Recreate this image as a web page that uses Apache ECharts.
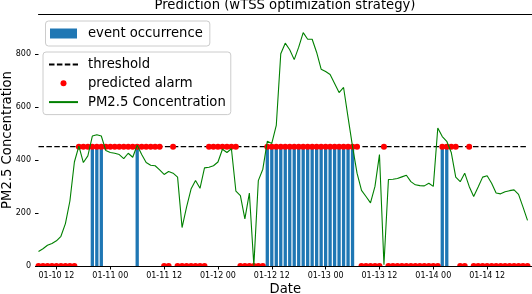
<!DOCTYPE html>
<html>
<head>
<meta charset="utf-8">
<script src="https://cdn.jsdelivr.net/npm/echarts@6/dist/echarts.min.js"></script>
<style>
html,body{margin:0;padding:0;background:#fff;}
#c{width:532px;height:294px;}
</style>
</head>
<body>
<div id="c"></div>
<script>
const DATES = [
'01-10 08','01-10 09','01-10 10','01-10 11','01-10 12','01-10 13','01-10 14','01-10 15','01-10 16','01-10 17','01-10 18','01-10 19','01-10 20','01-10 21','01-10 22','01-10 23',
'01-11 00','01-11 01','01-11 02','01-11 03','01-11 04','01-11 05','01-11 06','01-11 07','01-11 08','01-11 09','01-11 10','01-11 11','01-11 12','01-11 13','01-11 14','01-11 15','01-11 16','01-11 17','01-11 18','01-11 19','01-11 20','01-11 21','01-11 22','01-11 23',
'01-12 00','01-12 01','01-12 02','01-12 03','01-12 04','01-12 05','01-12 06','01-12 07','01-12 08','01-12 09','01-12 10','01-12 11','01-12 12','01-12 13','01-12 14','01-12 15','01-12 16','01-12 17','01-12 18','01-12 19','01-12 20','01-12 21','01-12 22','01-12 23',
'01-13 00','01-13 01','01-13 02','01-13 03','01-13 04','01-13 05','01-13 06','01-13 07','01-13 08','01-13 09','01-13 10','01-13 11','01-13 12','01-13 13','01-13 14','01-13 15','01-13 16','01-13 17','01-13 18','01-13 19','01-13 20','01-13 21','01-13 22','01-13 23',
'01-14 00','01-14 01','01-14 02','01-14 03','01-14 04','01-14 05','01-14 06','01-14 07','01-14 08','01-14 09','01-14 10','01-14 11','01-14 12','01-14 13','01-14 14','01-14 15','01-14 16','01-14 17','01-14 18','01-14 19','01-14 20','01-14 21'
];
const PM25 = [
55,65,78,85,95,112,160,245,392,452,390,415,490,495,490,435,
428,425,420,405,425,410,455,420,390,380,378,362,345,356,350,335,145,222,290,322,293,370,372,378,
392,440,428,442,282,265,178,275,2,322,365,470,462,530,800,840,815,778,825,880,855,855,805,742,
733,722,688,654,673,560,450,350,285,262,238,300,420,5,326,327,330,336,342,318,306,303,302,312,
300,520,488,470,428,335,318,350,300,262,298,335,340,312,275,272,280,284,287,270,222,172
];
const ALARM = [
0,0,0,0,0,0,0,0,0,1,1,1,1,1,1,1,
1,1,1,1,1,1,1,1,1,1,1,1,0,0,1,0,0,0,0,0,0,0,1,1,
1,1,1,1,1,0,0,0,0,0,0,1,1,1,1,1,1,1,1,1,1,1,1,1,
1,1,1,1,1,1,1,1,0,0,0,0,0,1,0,0,0,0,0,0,0,0,0,0,
0,0,1,1,1,1,0,0,1,0,0,0,0,0,0,0,0,0,0,0,0,0
];
const EVENTS = [
0,0,0,0,0,0,0,0,0,0,0,0,1,1,1,0,
0,0,0,0,0,0,1,0,0,0,0,0,0,0,0,0,0,0,0,0,0,0,0,0,
0,0,0,0,0,0,0,0,0,0,0,1,1,1,1,1,1,1,1,1,1,1,1,1,
1,1,1,1,1,1,1,0,0,0,0,0,0,0,0,0,0,0,0,0,0,0,0,0,
0,0,1,1,0,0,0,0,0,0,0,0,0,0,0,0,0,0,0,0,0,0
];
const THRESHOLD = 450;
const X_TICK_LABELS = ['01-10 12','01-11 00','01-11 12','01-12 00','01-12 12','01-13 00','01-13 12','01-14 00','01-14 12'];
const Y_TICKS = [0,200,400,600,800];

const hourOf = d => (parseInt(d.slice(3,5),10)-10)*24 + parseInt(d.slice(6,8),10);
const X = DATES.map(hourOf);
const labelByHour = {};
X_TICK_LABELS.forEach(s => { labelByHour[hourOf(s)] = s; });

const HALF = 'path://M0,10A10,10 0 0 1 20,10Z';
const FONT = 'DejaVu Sans';
const NOFILL = {color:'rgba(0,0,0,0)', borderWidth:0, opacity:0};

const chart = echarts.init(document.getElementById('c'), null, {renderer:'canvas'});
chart.setOption({
  animation:false,
  backgroundColor:'#fff',
  title:{
    text:'Prediction (wTSS optimization strategy)',
    left:285, top:-1, padding:0, textAlign:'center',
    textStyle:{fontFamily:FONT, fontSize:13.2, fontWeight:'normal', color:'#000'}
  },
  grid:{left:38.5, right:0, top:14, bottom:28, containLabel:false, outerBoundsMode:'none'},
  legend:[{
    data:[{name:'event occurrence', icon:'rect'}],
    left:45.5, top:21, orient:'horizontal',
    itemWidth:27, itemHeight:10,
    padding:[6,7,6,4.5],
    borderColor:'#cccccc', borderWidth:1, borderRadius:3,
    backgroundColor:'rgba(255,255,255,0.8)',
    textStyle:{fontFamily:FONT, fontSize:13.2, color:'#000', padding:[0,0,0,6]}
  },{
    data:[{name:'threshold', itemStyle:NOFILL},{name:'predicted alarm', icon:'circle'},{name:'PM2.5 Concentration', itemStyle:NOFILL}],
    left:43, top:52, orient:'vertical',
    itemWidth:29, itemHeight:6, itemGap:5.8,
    padding:[6,5,6,5],
    borderColor:'#cccccc', borderWidth:1, borderRadius:3,
    backgroundColor:'rgba(255,255,255,0.8)',
    textStyle:{fontFamily:FONT, fontSize:13.2, color:'#000', padding:[0,0,0,5]}
  }],
  xAxis:[{
    type:'value', min:X[0], max:X[X.length-1]+1,
    name:'Date', nameLocation:'middle', nameGap:17.3, nameMoveOverlap:false,
    nameTextStyle:{fontFamily:FONT, fontSize:13.2, color:'#000'},
    axisLine:{show:true, lineStyle:{color:'#000', width:1}},
    axisTick:{show:true, length:3.5, lineStyle:{color:'#000', width:1}, customValues:X_TICK_LABELS.map(hourOf)},
    axisLabel:{fontFamily:FONT, fontSize:8, color:'#000', margin:5.5,
      customValues:X_TICK_LABELS.map(hourOf), formatter:v => labelByHour[v] || ''},
    splitLine:{show:false}
  },{
    type:'value', position:'top', min:X[0], max:X[X.length-1]+1,
    axisLine:{show:true, lineStyle:{color:'#000', width:1}},
    axisTick:{show:false}, axisLabel:{show:false}, splitLine:{show:false}
  }],
  yAxis:{
    type:'value', min:0, max:950,
    name:'PM2.5 Concentration', nameLocation:'middle', nameGap:24.5, nameMoveOverlap:false,
    nameTextStyle:{fontFamily:FONT, fontSize:13.2, color:'#000'},
    axisLine:{show:false},
    axisTick:{show:true, length:3.5, lineStyle:{color:'#000', width:1}, customValues:Y_TICKS},
    axisLabel:{fontFamily:FONT, fontSize:8, color:'#000', margin:7.5, customValues:Y_TICKS},
    splitLine:{show:false}
  },
  series:[{
    name:'event occurrence', type:'bar', z:1,
    barWidth:3.3,
    itemStyle:{color:'#1f77b4'},
    data:EVENTS.map((e,i)=> e ? [X[i], THRESHOLD] : null).filter(d=>d)
  },{
    name:'threshold', type:'line', z:2, symbol:'none', silent:true,
    itemStyle:{color:'#000'},
    lineStyle:{color:'#000', width:1.4, type:[5.5,2.4]},
    data:X.map(x=>[x, THRESHOLD])
  },{
    name:'predicted alarm', type:'scatter', z:3,
    symbol:'circle', symbolSize:6,
    itemStyle:{color:'#ff0000', opacity:1},
    data:ALARM.map((a,i)=> a ? {value:[X[i], THRESHOLD]} :
      {value:[X[i], 0], symbol:HALF, symbolSize:[6,3], symbolOffset:[0,-1.5]})
  },{
    name:'PM2.5 Concentration', type:'line', z:4, symbol:'none',
    itemStyle:{color:'#008000'},
    lineStyle:{color:'#008000', width:1.1},
    data:PM25.map((v,i)=>[X[i], v])
  }]
});
</script>
</body>
</html>
